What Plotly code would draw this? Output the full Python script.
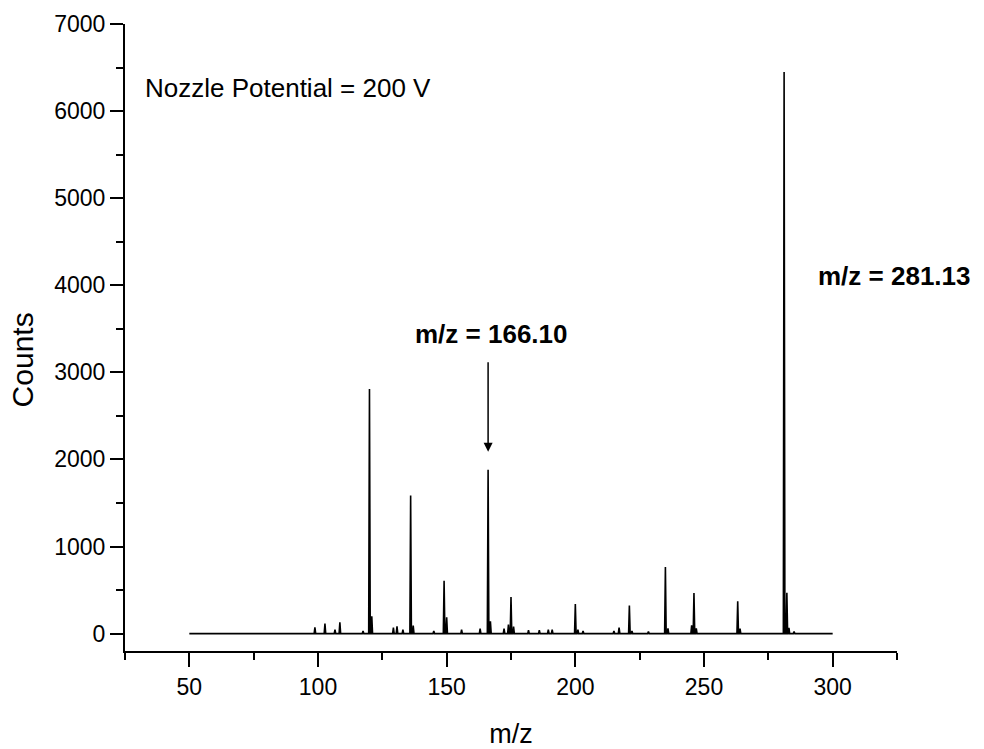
import plotly.graph_objects as go

# Peak list (m/z, counts)
peak_mz = [98.8, 102.7, 106.6, 108.5, 117.5, 120.0, 120.9, 129.3, 130.7, 133.0,
           136.0, 137.0, 145.0, 149.0, 150.0, 155.8, 163.0, 166.1, 167.0, 172.3,
           174.0, 175.0, 176.0, 181.8, 186.0, 189.5, 191.0, 200.0, 201.0, 203.0,
           215.0, 217.0, 221.0, 222.0, 228.4, 235.0, 236.0, 245.2, 246.1, 247.0,
           263.1, 264.0, 281.13, 282.2, 283.0, 285.0]
peak_counts = [73, 115, 45, 130, 30, 2810, 200, 70, 84, 45,
               1587, 92, 30, 608, 187, 46, 57, 1882, 141, 57,
               103, 421, 80, 38, 38, 46, 46, 340, 46, 30,
               30, 70, 321, 30, 25, 765, 60, 95, 467, 60,
               371, 57, 6450, 470, 65, 25]
scan_start, scan_end = 50, 300

x_ticks = [50, 100, 150, 200, 250, 300]
y_ticks = [0, 1000, 2000, 3000, 4000, 5000, 6000, 7000]

# Build stick spectrum from the peak list
xs, ys = [scan_start], [0]
for m, c in sorted(zip(peak_mz, peak_counts)):
    xs += [m - 0.3, m, m + 0.3]
    ys += [0, c, 0]
xs.append(scan_end)
ys.append(0)

fig = go.Figure()
fig.add_trace(go.Scatter(x=xs, y=ys, mode="lines",
                         line=dict(color="black", width=1.6),
                         hoverinfo="skip", showlegend=False))

font_main = "Liberation Sans, Arial, sans-serif"

fig.update_layout(
    width=984, height=749,
    margin=dict(l=125, r=87, t=24, b=98),
    paper_bgcolor="white", plot_bgcolor="white",
    font=dict(family=font_main, color="black", size=22),
    xaxis=dict(range=[25, 325], tickvals=x_ticks, ticks="outside", ticklen=14,
               tickwidth=2, tickcolor="black", showline=True, linecolor="black",
               linewidth=2, showgrid=False, zeroline=False, automargin=False,
               minor=dict(dtick=25, tick0=0, ticks="outside", ticklen=7,
                          tickwidth=2, tickcolor="black", showgrid=False),
               tickfont=dict(size=23),
               title=dict(text="m/z", font=dict(size=27), standoff=34)),
    yaxis=dict(range=[-200, 7000], tickvals=y_ticks, ticks="outside", ticklen=13,
               tickwidth=2, tickcolor="black", showline=True, linecolor="black",
               linewidth=2, showgrid=False, zeroline=False, automargin=False,
               minor=dict(dtick=500, tick0=0, ticks="outside", ticklen=7,
                          tickwidth=2, tickcolor="black", showgrid=False),
               tickfont=dict(size=23)),
)

# Y axis title
fig.add_annotation(x=-0.133, y=0.464, xref="paper", yref="paper", text="Counts",
                   textangle=-90, showarrow=False, xanchor="center", yanchor="middle",
                   font=dict(size=30, family=font_main))

fig.add_annotation(x=32, y=6266, xref="x", yref="y", text="Nozzle Potential = 200 V",
                   showarrow=False, xanchor="left", yanchor="middle",
                   font=dict(size=26, family=font_main))
fig.add_annotation(x=167.6, y=3437, xref="x", yref="y", text="<b>m/z = 166.10</b>",
                   showarrow=False, xanchor="center", yanchor="middle",
                   font=dict(size=26, family=font_main))
fig.add_annotation(x=323.9, y=4108, xref="x", yref="y", text="<b>m/z = 281.13</b>",
                   showarrow=False, xanchor="center", yanchor="middle",
                   font=dict(size=26, family=font_main))
# Arrow pointing at the 166.10 peak
fig.add_annotation(x=166.1, y=2089, xref="x", yref="y", ax=166.1, ay=3133,
                   axref="x", ayref="y", text="", showarrow=True,
                   arrowhead=2, arrowsize=1.2, arrowwidth=1.5, arrowcolor="black")

fig.write_html("out.html")
